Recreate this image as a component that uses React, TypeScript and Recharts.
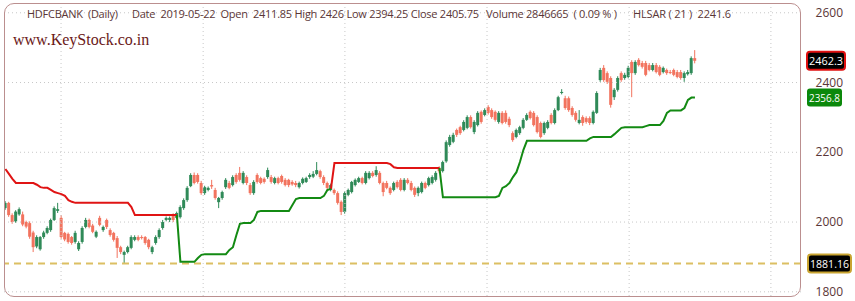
import React from 'react';
import { ComposedChart, Bar, Line, XAxis, YAxis, ReferenceLine } from 'recharts';

const open = [
  2040, 2055, 2020, 2002, 2022, 2022, 2000, 1997, 1970, 1930,
  1922, 1957, 1969, 1977, 2006, 2032, 2012, 1969, 1966, 1957,
  1943, 1922, 1943, 1986, 2006, 1990, 1958, 2012, 1977, 2006,
  1977, 1969, 1954, 1928, 1906, 1914, 1926, 1949, 1957, 1957,
  1957, 1949, 1914, 1940, 1957, 1983, 2006, 2006, 2020, 2012,
  2014, 2040, 2063, 2103, 2135, 2135, 2112, 2083, 2092, 2106,
  2092, 2057, 2069, 2100, 2112, 2106, 2135, 2141, 2112, 2129,
  2106, 2083, 2135, 2126, 2124, 2129, 2129, 2112, 2126, 2132,
  2121, 2121, 2115, 2112, 2100, 2112, 2115, 2129, 2130, 2138,
  2146, 2129, 2112, 2092, 2092, 2083, 2058, 2029, 2078, 2086,
  2106, 2115, 2126, 2112, 2126, 2141, 2135, 2141, 2112, 2112,
  2098, 2092, 2115, 2121, 2092, 2121, 2112, 2098, 2083, 2086,
  2112, 2106, 2112, 2121, 2155, 2146, 2174, 2221, 2230, 2264,
  2272, 2264, 2270, 2301, 2258, 2278, 2316, 2307, 2330, 2321,
  2316, 2287, 2313, 2313, 2296, 2255, 2244, 2255, 2270, 2293,
  2316, 2313, 2301, 2284, 2255, 2270, 2307, 2284, 2321, 2370,
  2355, 2355, 2327, 2313, 2284, 2301, 2298, 2298, 2284, 2313,
  2407, 2442, 2427, 2413, 2358, 2379, 2427, 2413, 2416, 2459,
  2427, 2465, 2456, 2456, 2450, 2436, 2450, 2445, 2430, 2436,
  2430, 2436, 2430, 2430, 2413, 2424, 2427, 2470,
];

const high = [
  2060, 2058, 2025, 2034, 2042, 2030, 2004, 2002, 1975, 1962,
  1960, 1975, 1988, 2010, 2045, 2055, 2020, 1972, 1970, 1960,
  1975, 1945, 1988, 2012, 2010, 1995, 1976, 2018, 1990, 2010,
  1982, 1972, 1960, 1932, 1918, 1932, 1962, 1962, 1962, 1962,
  1960, 1952, 1932, 1962, 1982, 2006, 2016, 2016, 2025, 2030,
  2048, 2068, 2103, 2140, 2142, 2140, 2118, 2104, 2102, 2121,
  2098, 2072, 2090, 2126, 2118, 2134, 2140, 2158, 2146, 2134,
  2112, 2120, 2140, 2130, 2128, 2156, 2135, 2130, 2130, 2136,
  2126, 2124, 2120, 2118, 2116, 2128, 2130, 2140, 2146, 2172,
  2150, 2134, 2116, 2110, 2096, 2088, 2062, 2088, 2096, 2118,
  2125, 2130, 2130, 2146, 2146, 2146, 2160, 2146, 2116, 2118,
  2102, 2116, 2120, 2126, 2126, 2126, 2118, 2102, 2102, 2116,
  2116, 2130, 2134, 2146, 2160, 2176, 2234, 2250, 2256, 2268,
  2276, 2292, 2306, 2306, 2292, 2318, 2320, 2326, 2335, 2326,
  2320, 2318, 2318, 2320, 2302, 2260, 2268, 2276, 2298, 2312,
  2320, 2318, 2306, 2288, 2288, 2292, 2312, 2326, 2362, 2381,
  2362, 2360, 2332, 2318, 2321, 2306, 2303, 2303, 2320, 2375,
  2442, 2450, 2432, 2418, 2384, 2418, 2432, 2428, 2448, 2464,
  2464, 2470, 2462, 2462, 2456, 2456, 2456, 2450, 2446, 2440,
  2436, 2440, 2436, 2436, 2432, 2436, 2475, 2493,
];

const low = [
  2035, 2015, 1995, 1998, 2018, 1988, 1982, 1952, 1914, 1925,
  1918, 1952, 1965, 1972, 2003, 2026, 1952, 1945, 1938, 1935,
  1938, 1917, 1938, 1982, 1982, 1968, 1954, 1988, 1972, 1980,
  1958, 1944, 1897, 1908, 1881.16, 1910, 1922, 1945, 1945, 1950,
  1935, 1922, 1908, 1935, 1952, 1978, 2002, 2000, 2000, 2008,
  2010, 2035, 2058, 2100, 2108, 2110, 2078, 2078, 2088, 2095,
  2064, 2040, 2064, 2095, 2094, 2102, 2110, 2116, 2108, 2106,
  2078, 2078, 2110, 2108, 2110, 2124, 2110, 2108, 2108, 2110,
  2102, 2100, 2104, 2100, 2096, 2108, 2112, 2124, 2126, 2134,
  2124, 2106, 2094, 2088, 2078, 2050, 2020, 2024, 2074, 2082,
  2102, 2112, 2108, 2108, 2122, 2128, 2130, 2108, 2074, 2094,
  2078, 2088, 2096, 2088, 2088, 2108, 2088, 2072, 2074, 2082,
  2094, 2102, 2108, 2116, 2140, 2142, 2170, 2216, 2226, 2244,
  2250, 2260, 2266, 2268, 2252, 2274, 2282, 2303, 2308, 2296,
  2288, 2282, 2280, 2282, 2272, 2230, 2240, 2250, 2266, 2290,
  2294, 2274, 2254, 2240, 2250, 2266, 2280, 2280, 2318, 2366,
  2322, 2316, 2302, 2288, 2280, 2276, 2282, 2278, 2280, 2310,
  2402, 2402, 2396, 2328, 2350, 2374, 2402, 2408, 2412, 2358,
  2422, 2446, 2440, 2418, 2432, 2432, 2426, 2418, 2426, 2422,
  2424, 2418, 2412, 2408, 2402, 2420, 2422, 2455,
];

const close = [
  2055, 2020, 2000, 2030, 2037, 1993, 1987, 1958, 1928, 1957,
  1957, 1970, 1983, 2006, 2040, 2037, 1957, 1950, 1943, 1940,
  1969, 1940, 1983, 2006, 1986, 1972, 1972, 1992, 1986, 1986,
  1963, 1949, 1926, 1914, 1914, 1928, 1957, 1957, 1949, 1955,
  1940, 1928, 1928, 1957, 1977, 2000, 2012, 2012, 2006, 2026,
  2043, 2063, 2098, 2135, 2112, 2115, 2083, 2100, 2098, 2102,
  2069, 2069, 2086, 2121, 2098, 2129, 2115, 2121, 2141, 2112,
  2083, 2115, 2115, 2112, 2115, 2149, 2115, 2126, 2112, 2115,
  2106, 2106, 2108, 2106, 2112, 2124, 2126, 2135, 2138, 2149,
  2129, 2112, 2098, 2106, 2083, 2055, 2029, 2083, 2092, 2115,
  2121, 2126, 2112, 2141, 2141, 2132, 2149, 2112, 2086, 2098,
  2083, 2112, 2100, 2092, 2121, 2112, 2092, 2078, 2098, 2112,
  2098, 2126, 2129, 2141, 2146, 2172, 2229, 2244, 2250, 2250,
  2255, 2287, 2301, 2272, 2287, 2313, 2287, 2321, 2313, 2301,
  2293, 2313, 2284, 2287, 2278, 2235, 2264, 2272, 2293, 2307,
  2298, 2278, 2258, 2244, 2284, 2287, 2284, 2321, 2358, 2373,
  2327, 2321, 2307, 2293, 2293, 2284, 2287, 2284, 2316, 2370,
  2436, 2407, 2402, 2336, 2379, 2413, 2407, 2422, 2442, 2427,
  2459, 2450, 2445, 2422, 2436, 2450, 2430, 2422, 2442, 2427,
  2428, 2422, 2416, 2413, 2427, 2430, 2470, 2462.3,
];

const hlsar = [
  2152, 2138, 2124, 2112, 2112, 2112, 2112, 2112, 2112, 2107,
  2100, 2098, 2098, 2092, 2086, 2083, 2080, 2075, 2063, 2058,
  2055, 2055, 2055, 2055, 2055, 2055, 2055, 2055, 2055, 2055,
  2055, 2055, 2055, 2055, 2055, 2055, 2043, 2020, 2020, 2020,
  2020, 2020, 2020, 2020, 2020, 2020, 2020, 2020, 2020, 2020,
  1886, 1886, 1886, 1886, 1886, 1897, 1906, 1908, 1908, 1908,
  1908, 1908, 1908, 1908, 1920, 1928, 1963, 1995, 1997, 1997,
  1997, 2006, 2029, 2032, 2032, 2032, 2032, 2032, 2032, 2032,
  2032, 2032, 2049, 2066, 2069, 2069, 2069, 2069, 2069, 2069,
  2069, 2075, 2092, 2095, 2169, 2169, 2169, 2169, 2169, 2169,
  2169, 2169, 2169, 2169, 2169, 2169, 2169, 2169, 2169, 2169,
  2166, 2157, 2155, 2155, 2155, 2155, 2155, 2155, 2155, 2155,
  2155, 2155, 2155, 2155, 2155, 2071, 2071, 2071, 2071, 2071,
  2071, 2071, 2071, 2071, 2071, 2071, 2071, 2071, 2071, 2071,
  2071, 2075, 2098, 2103, 2112, 2129, 2143, 2172, 2207, 2233,
  2233, 2233, 2233, 2233, 2233, 2233, 2233, 2233, 2233, 2233,
  2233, 2233, 2233, 2233, 2233, 2233, 2233, 2240, 2244, 2244,
  2244, 2244, 2244, 2244, 2252, 2261, 2270, 2272, 2272, 2272,
  2272, 2272, 2272, 2275, 2278, 2278, 2278, 2278, 2290, 2313,
  2320, 2320, 2320, 2320, 2327, 2350, 2356.8, 2356.8,
];

// HLSAR trend runs: D = SAR above price (red), U = SAR below price (green)
const trendRuns: [string, number][] = [['D', 50], ['U', 44], ['D', 31], ['U', 73]];

const yTicks = [1800, 2000, 2200, 2400, 2600];
const xDomain: [number, number] = [-0.4, 227.3];
const timeGridCandles = [15.9, 56.5, 97, 137.6, 178.2, 218.7];

const headerParts = [
  { text: 'HDFCBANK  (Daily)', len: 91 },
  { text: 'Date  2019-05-22  Open  2411.85 High 2426 Low 2394.25 Close 2405.75', len: 347 },
  { text: 'Volume 2846665  ( 0.09 % )', len: 131 },
  { text: 'HLSAR ( 21 )  2241.6', len: 98 },
];
const headerStarts = [27, 132, 486, 633];
const watermark = 'www.KeyStock.co.in';

const UP = '#2f8a58';
const DOWN = '#f2735e';
const SAR_RED = '#e01414';
const SAR_GREEN = '#138a13';
const TEXT = '#5a3636';

const trend: string[] = trendRuns.flatMap(([t, n]) => Array(n).fill(t));

const data = close.map((c, i) => ({
  i,
  open: open[i],
  high: high[i],
  low: low[i],
  close: c,
  range: [low[i], high[i]],
  sarDown: trend[i] === 'D' || trend[i + 1] === 'D' ? hlsar[i] : null,
  sarUp: trend[i] === 'U' || trend[i + 1] === 'U' ? hlsar[i] : null,
}));

const lastClose = close[close.length - 1];
const lastSar = hlsar[hlsar.length - 1];
const lowestLow = Math.min(...low);

const Candle = (props: any) => {
  const { x, y, width, height, payload } = props;
  if (!payload || x == null) return null;
  const { open: o, close: c, high: h, low: l } = payload;
  const color = c >= o ? UP : DOWN;
  const cx = x + width / 2;
  const ratio = h - l === 0 ? 0 : height / (h - l);
  const yo = y + (h - o) * ratio;
  const yc = y + (h - c) * ratio;
  const top = Math.min(yo, yc);
  const bh = Math.max(1, Math.abs(yo - yc));
  return (
    <g>
      <line x1={cx} x2={cx} y1={y} y2={y + height} stroke={color} strokeWidth={1} />
      <rect x={cx - 1.5} y={top} width={3} height={bh} fill={color} />
    </g>
  );
};

const YTick = (props: any) => (
  <text
    x={props.x + 34}
    y={props.y}
    dy={4}
    textAnchor="end"
    fontSize={12}
    fontFamily="Open Sans"
    fill={TEXT}
  >
    {props.payload.value}
  </text>
);

const priceBox = (text: string, fill: string, stroke: string, sw: number, w: number, gap: number) =>
  (props: any) => {
    const vb = props.viewBox || {};
    const right = (vb.x || 0) + (vb.width || 0);
    const cy = vb.y || 0;
    return (
      <g>
        <rect
          x={right + gap}
          y={cy - 9}
          width={w}
          height={18}
          rx={3}
          fill={fill}
          stroke={stroke}
          strokeWidth={sw}
        />
        <text
          x={right + gap + w / 2}
          y={cy}
          dy={4}
          textAnchor="middle"
          fontSize={11}
          fontFamily="Open Sans"
          fill="#ffffff"
          textLength={w - 4}
          lengthAdjust="spacingAndGlyphs"
        >
          {text}
        </text>
      </g>
    );
  };

export default function App() {
  return (
    <div style={{ position: 'absolute', left: 0, top: 0, width: 855, height: 301, background: '#fff' }}>
      <ComposedChart
        width={855}
        height={301}
        data={data}
        margin={{ top: 3, right: 0, bottom: 5, left: 4 }}
      >
        <XAxis type="number" dataKey="i" domain={xDomain} allowDataOverflow hide />
        <YAxis
          orientation="right"
          width={54}
          domain={[1788, 2628]}
          ticks={yTicks}
          allowDataOverflow
          axisLine={false}
          tickLine={false}
          tick={<YTick />}
        />
        {yTicks.map((t) => (
          <ReferenceLine key={'h' + t} y={t} stroke="#c8c8c8" strokeDasharray="1 3" />
        ))}
        {timeGridCandles.map((t) => (
          <ReferenceLine key={'v' + t} x={t} stroke="#c8c8c8" strokeDasharray="1 3" />
        ))}
        <ReferenceLine
          y={lowestLow}
          stroke="#dcbf63"
          strokeWidth={2}
          strokeDasharray="7 5"
          label={priceBox(lowestLow.toFixed(2), '#000000', '#c9a431', 2, 43, 7)}
        />
        <Bar dataKey="range" barSize={3} shape={<Candle />} isAnimationActive={false} />
        <Line
          type="linear"
          dataKey="sarDown"
          stroke={SAR_RED}
          strokeWidth={2}
          dot={false}
          connectNulls={false}
          isAnimationActive={false}
        />
        <Line
          type="linear"
          dataKey="sarUp"
          stroke={SAR_GREEN}
          strokeWidth={2}
          dot={false}
          connectNulls={false}
          isAnimationActive={false}
        />
        <ReferenceLine
          y={lastClose}
          stroke="none"
          strokeOpacity={0}
          label={priceBox(String(lastClose), '#000000', '#e01010', 2, 38, 6)}
        />
        <ReferenceLine
          y={lastSar}
          stroke="none"
          strokeOpacity={0}
          label={priceBox(String(lastSar), '#0b880b', 'none', 0, 35, 6)}
        />
      </ComposedChart>
      <svg
        width={855}
        height={301}
        style={{ position: 'absolute', left: 0, top: 0, pointerEvents: 'none' }}
      >
        {headerParts.map((p, k) => (
          <text
            key={k}
            x={headerStarts[k]}
            y={18}
            fontSize={11}
            fontFamily="Open Sans"
            fill={TEXT}
            textLength={p.len}
            lengthAdjust="spacing"
            style={{ whiteSpace: 'pre' }}
          >
            {p.text}
          </text>
        ))}
        <text x={13} y={45} fontSize={16} fontFamily="Liberation Serif" fill="#6a1818">
          {watermark}
        </text>
      </svg>
      <div
        style={{
          position: 'absolute',
          left: 4,
          top: 3,
          width: 797,
          height: 294,
          boxSizing: 'border-box',
          border: '1px solid #bb8f8f',
          borderRadius: 10,
          pointerEvents: 'none',
        }}
      />
    </div>
  );
}
